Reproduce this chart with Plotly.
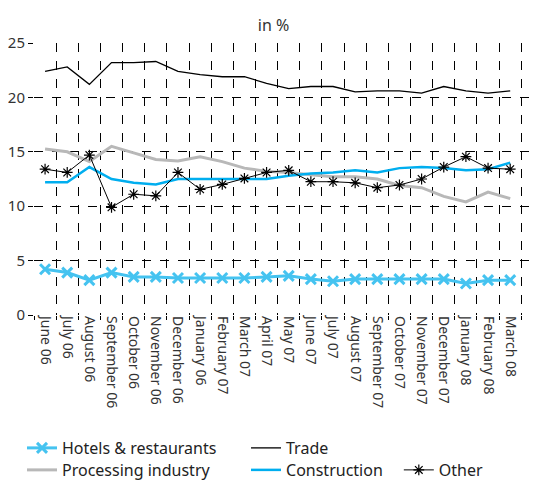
import plotly.graph_objects as go

months = ["June 06", "July 06", "August 06", "September 06", "October 06",
          "November 06", "December 06", "January 06", "February 07", "March 07",
          "April 07", "May 07", "June 07", "July 07", "August 07", "September 07",
          "October 07", "November 07", "December 07", "January 08", "February 08",
          "March 08"]

hotels = [4.2, 3.9, 3.2, 3.9, 3.5, 3.5, 3.4, 3.4, 3.4, 3.4, 3.5,
          3.6, 3.3, 3.1, 3.3, 3.3, 3.3, 3.3, 3.3, 2.9, 3.2, 3.2]
trade = [22.4, 22.8, 21.2, 23.2, 23.2, 23.3, 22.4, 22.1, 21.9, 21.9, 21.3,
         20.8, 21.0, 21.0, 20.5, 20.6, 20.6, 20.4, 21.0, 20.6, 20.4, 20.6]
processing = [15.25, 15.0, 14.1, 15.5, 14.9, 14.3, 14.15, 14.55, 14.1, 13.5, 13.2,
              13.1, 12.9, 12.7, 12.7, 12.5, 11.9, 11.7, 10.9, 10.4, 11.3, 10.7]
construction = [12.2, 12.2, 13.6, 12.5, 12.15, 12.0, 12.5, 12.5, 12.5, 12.5, 12.5,
                12.8, 13.0, 13.1, 13.3, 13.1, 13.5, 13.6, 13.5, 13.3, 13.4, 14.0]
other = [13.4, 13.1, 14.7, 9.9, 11.1, 10.95, 13.1, 11.55, 12.0, 12.55, 13.1,
         13.3, 12.25, 12.25, 12.15, 11.7, 11.95, 12.5, 13.6, 14.55, 13.5, 13.4]

fig = go.Figure()

fig.add_trace(go.Scatter(x=months, y=hotels, name="Hotels & restaurants",
                         mode="lines+markers",
                         line=dict(color="#45c3f0", width=3),
                         marker=dict(symbol="x-thin-open", size=10,
                                     line=dict(color="#45c3f0", width=3))))
fig.add_trace(go.Scatter(x=months, y=trade, name="Trade", mode="lines",
                         line=dict(color="black", width=1.3)))
fig.add_trace(go.Scatter(x=months, y=processing, name="Processing industry",
                         mode="lines", legend="legend2",
                         line=dict(color="#b8b8b8", width=3)))
fig.add_trace(go.Scatter(x=months, y=construction, name="Construction",
                         mode="lines", legend="legend2",
                         line=dict(color="#00aeef", width=2.5)))
fig.add_trace(go.Scatter(x=months, y=other, name="Other",
                         mode="lines+markers", legend="legend3",
                         line=dict(color="black", width=1),
                         marker=dict(symbol="asterisk-open", size=9,
                                     line=dict(color="black", width=1.2))))

# page body adds an 8px offset, so the figure is 8px smaller than the window
leg = dict(orientation="h", xref="container", yref="container",
           xanchor="left", yanchor="top", font=dict(size=16, color="#222222"),
           itemwidth=30, tracegroupgap=0, bgcolor="rgba(0,0,0,0)")

fig.update_layout(
    width=531, height=475,
    margin=dict(l=26, r=0, t=35, b=168, autoexpand=False),
    paper_bgcolor="white", plot_bgcolor="white",
    font=dict(family="Noto Sans", size=15, color="#333333"),
    title=dict(text="in %", x=0.5, xanchor="center", y=0.975, yanchor="top",
               font=dict(size=16, color="#333333")),
    legend=dict(leg, x=0.0264, y=0.1095, entrywidth=179, entrywidthmode="pixels"),
    legend2=dict(leg, x=0.0264, y=0.0632, entrywidth=179, entrywidthmode="pixels"),
    legend3=dict(leg, x=0.736, y=0.0632),
)

fig.update_xaxes(type="category", range=[-0.5, 22.3], tickson="boundaries",
                 tickangle=90, tickfont=dict(size=14), automargin=False,
                 showgrid=True, gridcolor="black", griddash="dash", gridwidth=1,
                 ticks="outside", ticklen=4, tickcolor="black",
                 showline=False, zeroline=False)
fig.update_yaxes(range=[0, 25], dtick=5, tickfont=dict(size=15), automargin=False,
                 showgrid=True, gridcolor="black", griddash="dash", gridwidth=1,
                 ticks="outside", ticklen=5, tickcolor="black",
                 showline=False, zeroline=False)

fig.write_html("out.html")
